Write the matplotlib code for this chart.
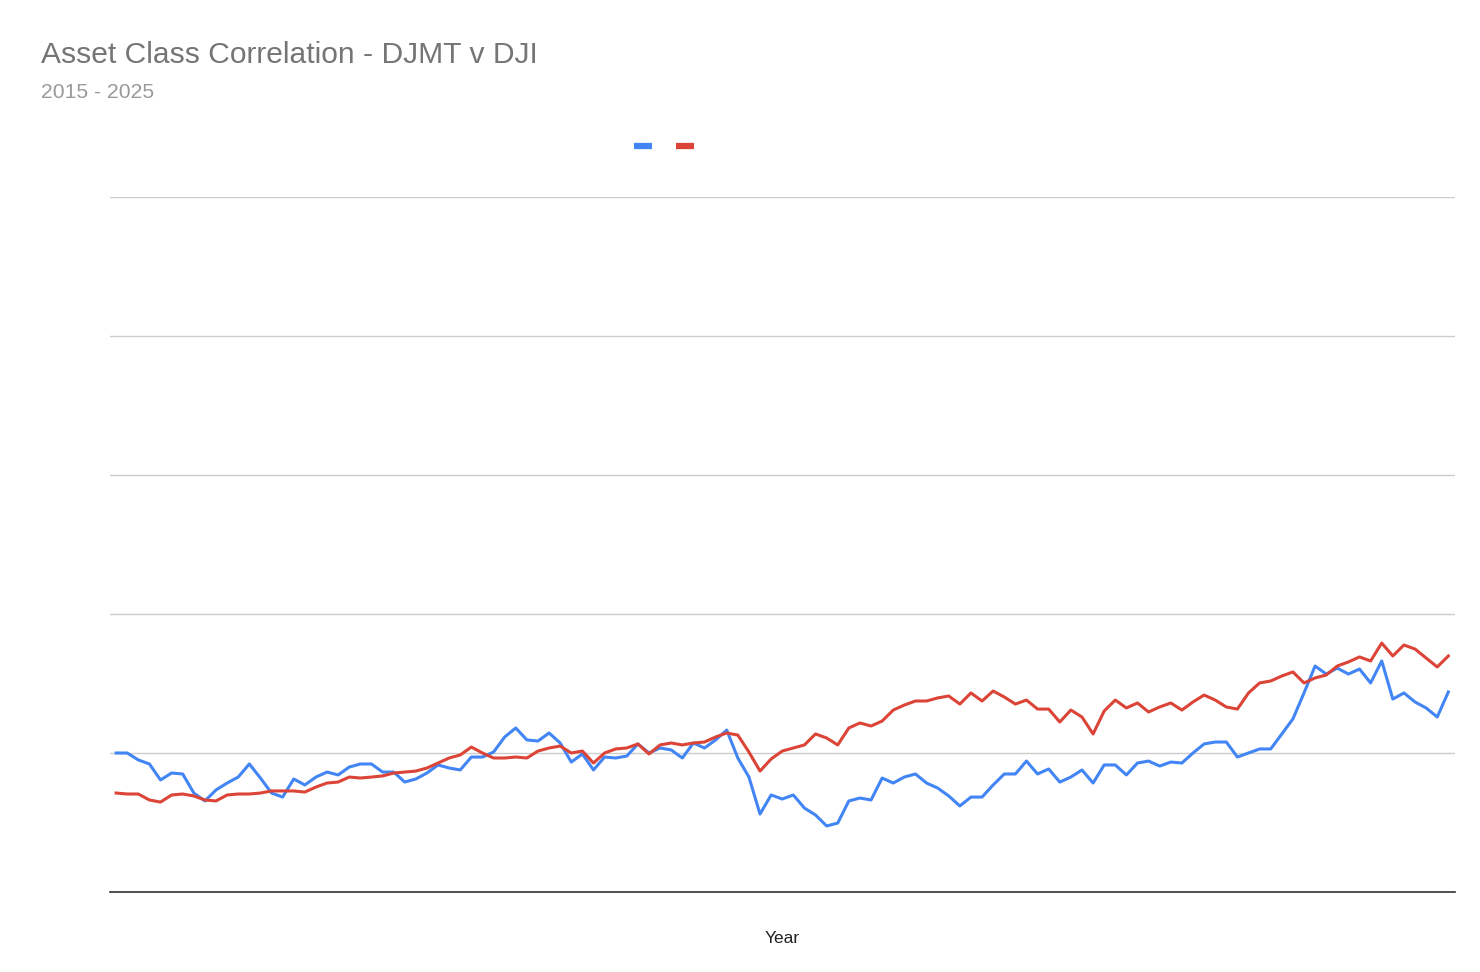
import matplotlib.pyplot as plt
from matplotlib.lines import Line2D
import numpy as np

plt.rcParams['font.family'] = ['Liberation Sans', 'DejaVu Sans']

# monthly index values, Jan 2015 .. Jan 2025 (121 points)
djmt = [100.0, 100.0, 95.0, 92.1, 80.6, 85.6, 84.9, 71.2, 65.5, 73.4, 78.4, 82.7, 92.1, 82.0, 71.2, 68.3,
        81.3, 77.0, 82.7, 86.3, 84.2, 89.9, 92.1, 92.1, 86.3, 86.3, 79.1, 81.3, 85.6, 91.4,
        89.2, 87.8, 97.1, 97.1, 100.7, 111.5, 118.0, 109.4, 108.6, 114.4, 107.2, 93.5, 99.3, 87.8, 97.1,
        96.4, 97.8, 106.5, 100.0, 103.6, 102.2, 96.4, 107.2, 103.6, 109.4, 116.5, 96.4, 82.7, 56.1,
        69.8, 66.9, 69.8, 60.4, 55.4, 47.5, 49.6, 65.5, 67.6, 66.2, 82.0, 78.4, 82.7, 84.9, 78.4, 74.8,
        69.1, 61.9, 68.3, 68.3, 77.0, 84.9, 84.9, 94.2, 84.9, 88.5, 79.1, 82.7, 87.8, 78.4, 91.4,
        91.4, 84.2, 92.8, 94.2, 90.6, 93.5, 92.8, 100.0, 106.5, 107.9, 107.9, 97.1, 100.0, 102.9, 102.9,
        113.7, 124.5, 143.2, 162.6, 156.8, 161.1, 156.8, 160.4, 150.4, 166.2, 138.8, 143.2, 136.7, 132.4,
        125.9, 143.9]

dji = [71.2, 70.5, 70.5, 66.2, 64.7, 69.8, 70.5, 69.1, 66.2, 65.5, 69.8, 70.5, 70.5, 71.2, 72.7, 72.7,
       72.7, 71.9, 75.5, 78.4, 79.1, 82.7, 82.0, 82.7, 83.5, 85.6, 86.3, 87.0, 89.2, 92.8,
       96.4, 98.6, 104.3, 100.0, 96.4, 96.4, 97.1, 96.4, 101.4, 103.6, 105.0, 100.0, 101.4, 92.8, 100.0,
       102.9, 103.6, 106.5, 99.3, 105.8, 107.2, 105.8, 107.2, 107.9, 111.5, 114.4, 112.9, 100.7, 87.0,
       95.7, 101.4, 103.6, 105.8, 113.7, 110.8, 105.8, 118.0, 121.6, 119.4, 123.0, 130.9, 134.5, 137.4,
       137.4, 139.6, 141.0, 135.2, 143.2, 137.4, 144.6, 140.3, 135.2, 138.1, 131.6, 131.6, 122.3, 130.9,
       125.9, 113.7, 130.2,
       138.1, 132.4, 136.0, 129.5, 133.1, 136.0, 130.9, 136.7, 141.7, 138.1, 133.1, 131.6, 143.2, 150.4,
       151.8, 155.4, 158.3, 150.4, 154.0, 156.1, 162.6, 165.5, 169.1, 166.2, 179.1, 169.8, 177.7, 174.8,
       168.3, 161.9, 169.8]

y_ticks = [0, 100, 200, 300, 400, 500]

months = np.arange(len(djmt))

fig = plt.figure(figsize=(14.8, 9.72), dpi=100)
ax = fig.add_axes([110 / 1480, 80 / 972, 1345 / 1480, 695 / 972])

ax.plot(months, djmt, color='#4285F4', lw=2.2, solid_joinstyle='round')
ax.plot(months, dji, color='#DB4437', lw=2.2, solid_joinstyle='round')

ax.set_ylim(0, 500)
ax.set_xlim(-0.55, len(djmt) - 1 + 0.6)
ax.set_yticks(y_ticks)
ax.set_yticklabels([])
ax.set_xticks([])
ax.tick_params(axis='y', length=0)
ax.grid(axis='y', color='#cccccc', lw=1)
ax.set_axisbelow(True)
for s in ['top', 'right', 'left']:
    ax.spines[s].set_visible(False)
ax.spines['bottom'].set_color('#333333')
ax.spines['bottom'].set_linewidth(1.2)

ax.set_xlabel('Year', fontsize=12.5, color='#222222', labelpad=28)

fig.text(41 / 1480, 1 - 55 / 972, 'Asset Class Correlation - DJMT v DJI', fontsize=21.6,
         color='#757575', va='center', ha='left')
fig.text(41 / 1480, 1 - 92 / 972, '2015 - 2025', fontsize=15.2, color='#999999',
         va='center', ha='left')

# legend swatches (no labels)
yl = 1 - 146 / 972
fig.add_artist(Line2D([634 / 1480, 652 / 1480], [yl, yl], color='#4285F4', lw=4.5,
                      solid_capstyle='butt'))
fig.add_artist(Line2D([676 / 1480, 694 / 1480], [yl, yl], color='#DB4437', lw=4.5,
                      solid_capstyle='butt'))

fig.savefig('out.png', dpi=100)
